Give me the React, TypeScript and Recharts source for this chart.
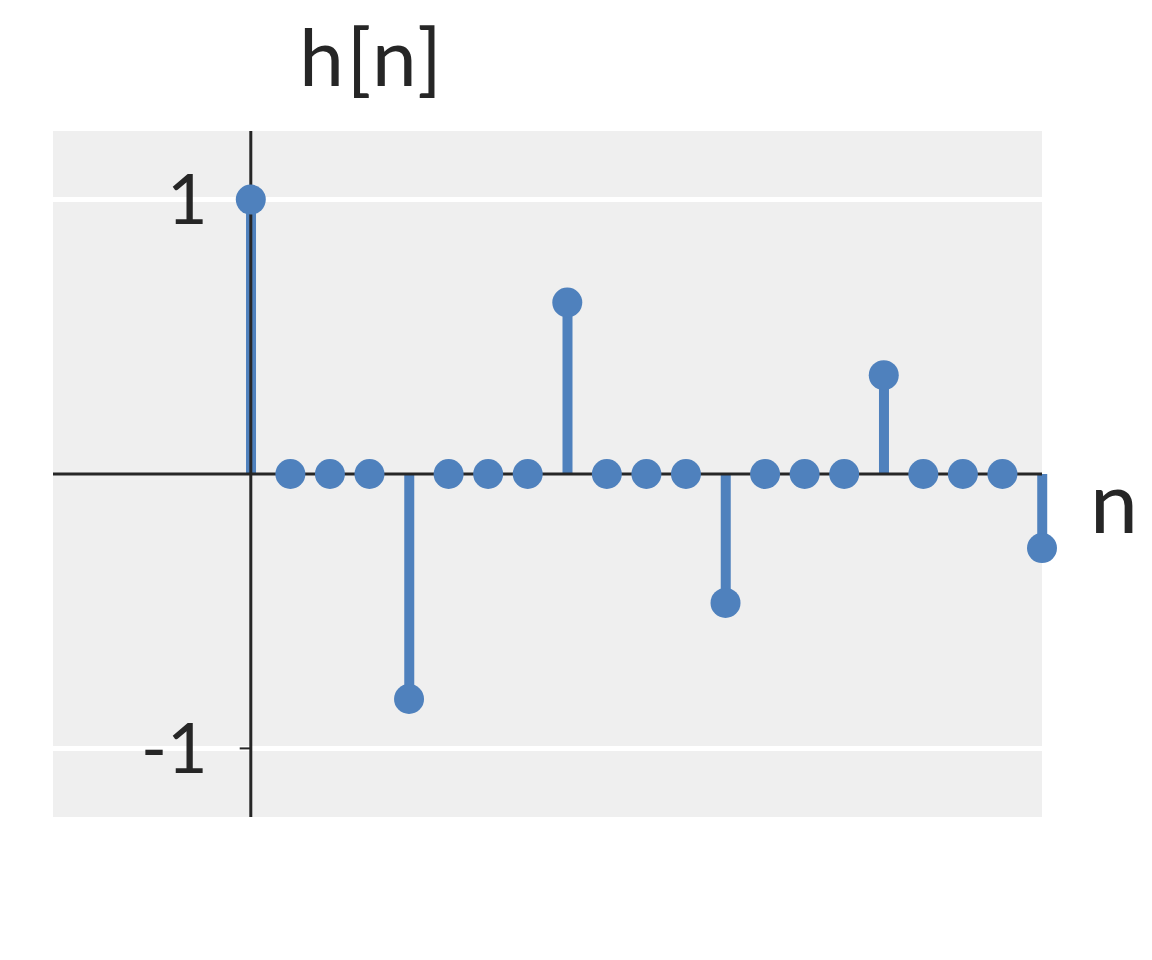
import React from 'react';
import { ComposedChart, XAxis, YAxis, Bar, Scatter, ReferenceLine, ReferenceArea } from 'recharts';

// impulse response h[n], n = 0..20
const nValues = [0, 1, 2, 3, 4, 5, 6, 7, 8, 9, 10, 11, 12, 13, 14, 15, 16, 17, 18, 19, 20];
const hValues = [1, 0, 0, 0, -0.82, 0, 0, 0, 0.625, 0, 0, 0, -0.47, 0, 0, 0, 0.36, 0, 0, 0, -0.27];
const yTicks = [1, -1];

const data = nValues.map((n, i) => ({ n, h: hValues[i] }));

const BLUE = '#4f81bd';
const INK = '#262626';
const FONT = 'Lato, "DejaVu Sans", sans-serif';

const Dot = (props: any) => <circle cx={props.cx} cy={props.cy} r={15} fill={BLUE} />;

export default function App() {
    return (
        <div style={{ position: 'absolute', left: 0, top: 0, width: 1152, height: 960, background: '#fff' }}>
            <ComposedChart width={1152} height={960} data={data} margin={{ top: 131, right: 110, bottom: 143, left: 53 }}>
                <XAxis type="number" dataKey="n" domain={[-5, 20]} hide />
                <YAxis type="number" domain={[-1.25, 1.25]} hide />
                <ReferenceArea x1={-5} x2={20} y1={-1.25} y2={1.25} fill="#efefef" fillOpacity={1} stroke="none" />
                {yTicks.map((t) => (
                    <ReferenceLine key={`g${t}`} y={t} stroke="#ffffff" strokeWidth={5} />
                ))}
                <Bar dataKey="h" barSize={10} fill={BLUE} isAnimationActive={false} />
                <Scatter dataKey="h" shape={Dot} isAnimationActive={false} />
                <ReferenceLine y={0} stroke={INK} strokeWidth={3} />
                <ReferenceLine x={0} stroke={INK} strokeWidth={3} />
                {yTicks.map((t) => (
                    <ReferenceLine
                        key={`t${t}`}
                        segment={[{ x: -0.28, y: t }, { x: 0, y: t }]}
                        stroke={INK}
                        strokeWidth={2}
                        label={{ value: String(t), position: 'left', offset: 32, fill: INK, fontSize: 70, fontFamily: FONT }}
                    />
                ))}
            </ComposedChart>
            <svg width={1152} height={960} style={{ position: 'absolute', left: 0, top: 0, pointerEvents: 'none' }}>
                <text x={372} y={86} textAnchor="middle" fontSize={80} letterSpacing={3} fontFamily={FONT} fill={INK}>h[n]</text>
                <text x={1114} y={533} textAnchor="middle" fontSize={86} fontFamily={FONT} fill={INK}>n</text>
            </svg>
        </div>
    );
}
